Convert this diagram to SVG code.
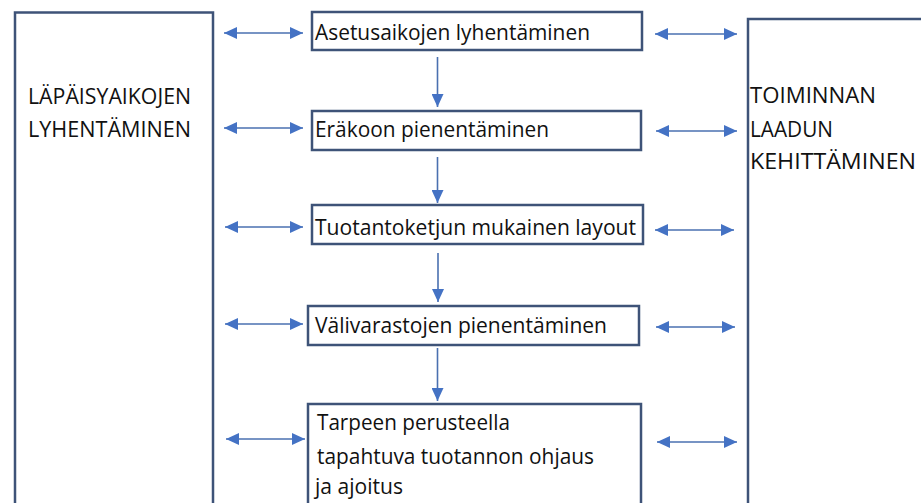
<svg xmlns="http://www.w3.org/2000/svg" width="921" height="503" viewBox="0 0 921 503">
<style>
.box{fill:#ffffff;stroke:#3e5378;stroke-width:2.5}
.t{font-family:"Open Sans","Noto Sans",sans-serif;font-size:21px;fill:#111111}
.c{stroke:#4a70b0;stroke-width:1.6;fill:none}
</style>
<defs>
<marker id="ah" markerUnits="userSpaceOnUse" markerWidth="14" markerHeight="12" refX="13" refY="6" orient="auto-start-reverse">
<path d="M0,0 L13,6 L0,12 Z" fill="#4472c4"/>
</marker>
</defs>
<rect width="921" height="503" fill="#ffffff"/>
<g id="left">
<rect class="box" x="15" y="12.5" width="198" height="510"/>
<text class="t" x="28" y="104" textLength="163" lengthAdjust="spacingAndGlyphs">LÄPÄISYAIKOJEN</text>
<text class="t" x="28" y="137" textLength="163" lengthAdjust="spacingAndGlyphs">LYHENTÄMINEN</text>
</g>
<g id="right">
<rect class="box" x="748" y="19" width="200" height="510"/>
<text class="t" x="750" y="103" textLength="126" lengthAdjust="spacingAndGlyphs">TOIMINNAN</text>
<text class="t" x="750" y="137" textLength="83" lengthAdjust="spacingAndGlyphs">LAADUN</text>
<text class="t" x="750" y="169" textLength="166" lengthAdjust="spacingAndGlyphs">KEHITTÄMINEN</text>
</g>
<g id="n1">
<rect class="box" x="312" y="12" width="330" height="38"/>
<text class="t" x="315" y="39.5" textLength="275" lengthAdjust="spacingAndGlyphs">Asetusaikojen lyhentäminen</text>
</g>
<g id="n2">
<rect class="box" x="312" y="111" width="329" height="39"/>
<text class="t" x="315" y="137" textLength="234" lengthAdjust="spacingAndGlyphs">Eräkoon pienentäminen</text>
</g>
<g id="n3">
<rect class="box" x="312" y="205" width="331" height="39"/>
<text class="t" x="315" y="235" textLength="321" lengthAdjust="spacingAndGlyphs">Tuotantoketjun mukainen layout</text>
</g>
<g id="n4">
<rect class="box" x="308" y="306" width="331" height="39"/>
<text class="t" x="315" y="333" textLength="292" lengthAdjust="spacingAndGlyphs">Välivarastojen pienentäminen</text>
</g>
<g id="n5">
<rect class="box" x="308" y="404" width="333" height="130"/>
<text class="t" x="317" y="430" textLength="193" lengthAdjust="spacingAndGlyphs">Tarpeen perusteella</text>
<text class="t" x="317" y="464" textLength="277" lengthAdjust="spacingAndGlyphs">tapahtuva tuotannon ohjaus</text>
<text class="t" x="315" y="494" textLength="88" lengthAdjust="spacingAndGlyphs">ja ajoitus</text>
</g>
<g id="connectors">
<line class="c" x1="224" y1="33" x2="303" y2="33" marker-start="url(#ah)" marker-end="url(#ah)"/>
<line class="c" x1="224" y1="128" x2="303" y2="128" marker-start="url(#ah)" marker-end="url(#ah)"/>
<line class="c" x1="225" y1="227" x2="303" y2="227" marker-start="url(#ah)" marker-end="url(#ah)"/>
<line class="c" x1="225" y1="324" x2="303" y2="324" marker-start="url(#ah)" marker-end="url(#ah)"/>
<line class="c" x1="226" y1="439" x2="305" y2="439" marker-start="url(#ah)" marker-end="url(#ah)"/>
<line class="c" x1="655" y1="34" x2="737" y2="34" marker-start="url(#ah)" marker-end="url(#ah)"/>
<line class="c" x1="656" y1="131" x2="737" y2="131" marker-start="url(#ah)" marker-end="url(#ah)"/>
<line class="c" x1="655" y1="230" x2="734" y2="230" marker-start="url(#ah)" marker-end="url(#ah)"/>
<line class="c" x1="656" y1="327" x2="735" y2="327" marker-start="url(#ah)" marker-end="url(#ah)"/>
<line class="c" x1="657" y1="442" x2="737" y2="442" marker-start="url(#ah)" marker-end="url(#ah)"/>
<line class="c" x1="437.5" y1="57" x2="437.5" y2="107" marker-end="url(#ah)"/>
<line class="c" x1="437.5" y1="157" x2="437.5" y2="203" marker-end="url(#ah)"/>
<line class="c" x1="438" y1="253" x2="438" y2="302" marker-end="url(#ah)"/>
<line class="c" x1="437.5" y1="348" x2="437.5" y2="401" marker-end="url(#ah)"/>
</g>
</svg>
